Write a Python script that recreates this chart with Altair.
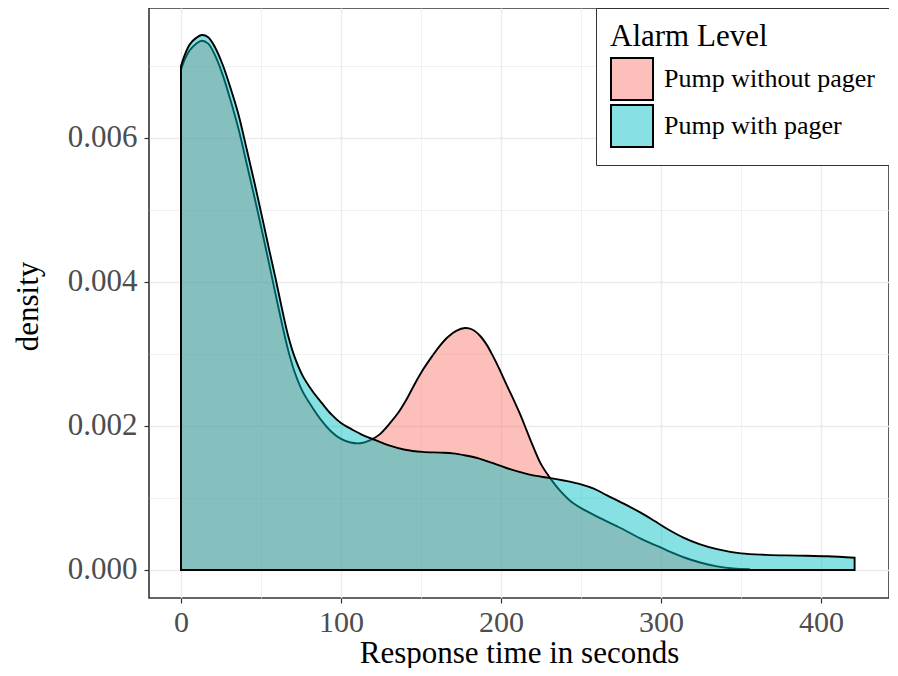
import altair as alt
import pandas as pd

# ---- data (density curves) ----
groups = ["Pump without pager", "Pump with pager"]
colors = ["rgba(248,118,109,0.47)", "rgba(0,191,196,0.47)"]

pink_x = [0, 2.5, 5.5, 9.5, 13, 17, 21, 26, 31, 36, 41, 46, 51, 55, 59, 63, 67, 71,
          76, 82, 88, 94, 100, 106, 112, 118, 124, 131, 136, 141, 146, 151.5, 157,
          162, 167, 172, 177.5, 182, 187, 191, 195, 199, 203.5, 208, 212, 216, 220,
          225, 230.6, 237, 245, 255, 262, 275, 287, 296, 304, 315, 325, 335, 345, 355]
pink_y = [0.00695, 0.00710, 0.00722, 0.00731, 0.00735, 0.00731, 0.00716, 0.00688,
          0.00652, 0.00612, 0.00565, 0.00517, 0.00467, 0.00426, 0.00384, 0.00343,
          0.00305, 0.00275, 0.00248, 0.00226, 0.00207, 0.00192, 0.00182, 0.00177,
          0.00176, 0.00180, 0.00188, 0.00205, 0.00219, 0.00237, 0.00258, 0.00279,
          0.00297, 0.00312, 0.00324, 0.00332, 0.00336, 0.00334, 0.00325, 0.00313,
          0.00297, 0.00279, 0.00257, 0.00236, 0.00216, 0.00194, 0.00172, 0.00147,
          0.00128, 0.00110, 0.00093, 0.00080, 0.00072, 0.00058, 0.00044, 0.00035,
          0.00027, 0.00017, 0.00010, 0.00005, 0.00002, 0.00001]

teal_x = [0, 2.5, 5.5, 9.5, 13, 17, 21, 26, 31, 36, 41, 46, 51, 55, 59, 63, 67, 71,
          76, 82, 88, 94, 100, 107, 114, 122, 130, 140, 151, 162, 170, 178, 186, 194,
          203, 212, 221, 230, 240, 250, 258, 266, 275, 287, 296, 304, 314, 324, 335,
          350, 366, 385, 404, 421]
teal_y = [0.00700, 0.00716, 0.00730, 0.00739, 0.00743, 0.00740, 0.00727, 0.00702,
          0.00669, 0.00632, 0.00585, 0.00537, 0.00487, 0.00446, 0.00406, 0.00364,
          0.00325, 0.00296, 0.00270, 0.00249, 0.00232, 0.00216, 0.00204, 0.00195,
          0.00187, 0.00180, 0.00173, 0.00167, 0.00164, 0.00163, 0.00162, 0.00159,
          0.00155, 0.00149, 0.00142, 0.00136, 0.00131, 0.00128, 0.00124, 0.00119,
          0.00113, 0.00104, 0.00094, 0.00080, 0.00068, 0.00057, 0.00045, 0.00036,
          0.00029, 0.00023, 0.00021, 0.00020, 0.00019, 0.00017]

x_values = [0, 50, 100, 150, 200, 250, 300, 350, 400]
y_values = [0.0, 0.001, 0.002, 0.003, 0.004, 0.005, 0.006, 0.007]

pink = pd.DataFrame({"t": pink_x, "d": pink_y, "g": groups[0]})
teal = pd.DataFrame({"t": teal_x, "d": teal_y, "g": groups[1]})

FONT = "Liberation Serif"

x_axis = alt.Axis(
    values=x_values,
    labelExpr="datum.value % 100 == 0 ? datum.label : ''",
    title="Response time in seconds",
    titleFont=FONT, titleFontSize=31, titleFontWeight="normal", titleColor="black",
    titleBaseline="alphabetic", titleY=64,
    labelFont=FONT, labelFontSize=30, labelColor="#4D4D4D",
    labelBaseline="alphabetic", labelPadding=28, labelFlush=False, labelOverlap=False,
    tickSize=5, tickColor="#333333", tickWidth=1.2,
    tickOpacity={"condition": {"test": "datum.value % 100 != 0", "value": 0}, "value": 1},
    gridColor="#EBEBEB",
    gridWidth={"condition": {"test": "datum.value % 100 != 0", "value": 0.7}, "value": 1.4},
    domain=False,
)

y_axis = alt.Axis(
    values=y_values,
    format=".3f",
    labelExpr="round(datum.value * 1000) % 2 == 0 ? datum.label : ''",
    title="density",
    titleFont=FONT, titleFontSize=31, titleFontWeight="normal", titleColor="black",
    titleAngle=270, titleAlign="center", titleBaseline="alphabetic",
    titleX=-112, titleY=298,
    labelFont=FONT, labelFontSize=31, labelColor="#4D4D4D",
    labelAlign="right", labelBaseline="middle", labelPadding=7, labelOverlap=False,
    tickSize=5, tickColor="#333333", tickWidth=1.2,
    tickOpacity={"condition": {"test": "round(datum.value * 1000) % 2 == 1", "value": 0}, "value": 1},
    gridColor="#EBEBEB",
    gridWidth={"condition": {"test": "round(datum.value * 1000) % 2 == 1", "value": 0.7}, "value": 1.4},
    domain=False,
)

fill_scale = alt.Scale(domain=groups, range=colors)
legend = alt.Legend(
    title="Alarm Level", orient="top-right", offset=0,
    titleFont=FONT, titleFontSize=31, titleFontWeight="normal", titleColor="black",
    titlePadding=4,
    labelFont=FONT, labelFontSize=26, labelColor="black", labelOffset=10,
    labelLimit=400,
    symbolType="square", symbolSize=1764, symbolStrokeColor="black",
    symbolStrokeWidth=2, rowPadding=-3, symbolOpacity=1,
    padding=14, strokeColor="#333333", fillColor="white",
)

x_enc = alt.X("t:Q", scale=alt.Scale(domain=[-20, 442.5], nice=False, zero=False), axis=x_axis)
y_enc = alt.Y("d:Q", scale=alt.Scale(domain=[-0.000389, 0.007805], nice=False, zero=False),
              axis=y_axis, stack=None)

def layer(df):
    return alt.Chart(df).mark_area(
        interpolate="catmull-rom", stroke="black", strokeWidth=1.9,
        strokeOpacity=1,
    ).encode(
        x=x_enc,
        y=y_enc,
        fill=alt.Fill("g:N", scale=fill_scale, legend=legend),
    )

chart = alt.layer(layer(pink), layer(teal)).properties(
    width=740, height=590,
    autosize=alt.AutoSizeParams(type="none"),
    padding={"left": 141, "top": 0, "right": 0, "bottom": 70},
    background="white",
).configure_view(
    stroke="#333333", strokeWidth=1.6,
)

chart.save("out.html", embed_options={"renderer": "svg", "actions": False})
